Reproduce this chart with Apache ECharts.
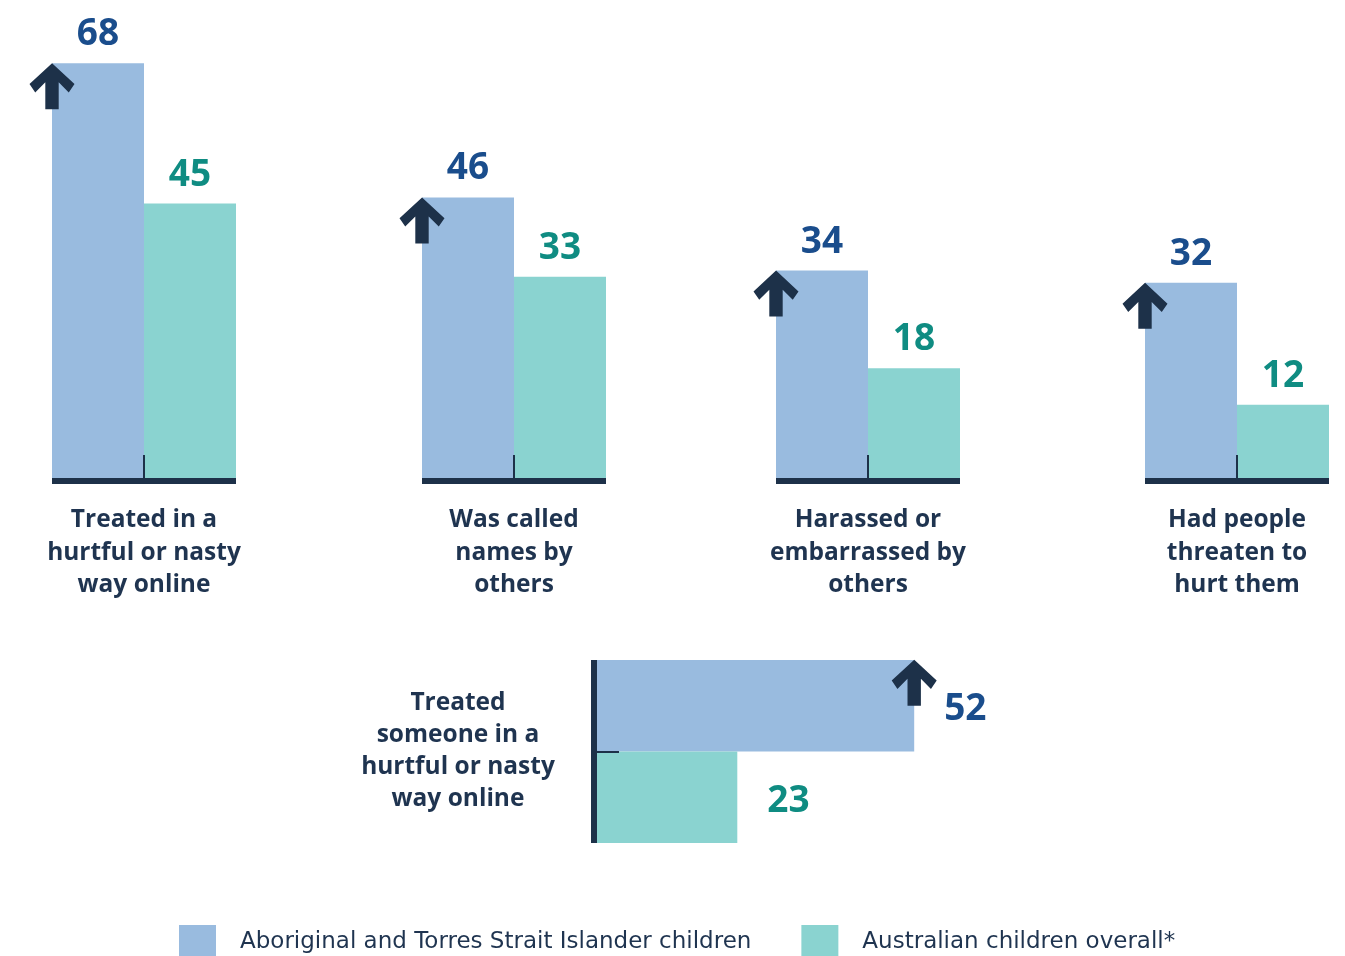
<!DOCTYPE html>
<html>
<head>
<meta charset="utf-8">
<script src="https://cdn.jsdelivr.net/npm/echarts@6/dist/echarts.min.js"></script>
<style>html,body{margin:0;padding:0;background:#fff}#c{width:1345px;height:956px}</style>
</head>
<body>
<div id="c"></div>
<script>
const seriesNames = ['Aboriginal and Torres Strait Islander children', 'Australian children overall*'];
const categories = ['Treated in a\nhurtful or nasty\nway online', 'Was called\nnames by\nothers', 'Harassed or\nembarrassed by\nothers', 'Had people\nthreaten to\nhurt them'];
const aboriginal = [68, 46, 34, 32];
const overall = [45, 33, 18, 12];
const hCategory = ['Treated\nsomeone in a\nhurtful or nasty\nway online'];
const hAboriginal = [52];
const hOverall = [23];

const BLUE = '#99bbdf', TEAL = '#8ad3d0', NAVY = '#1d3149', BLUE_TXT = '#1a4d8c', TEAL_TXT = '#0f8c82';
const FONT = '"Open Sans", sans-serif';
const ARROW = 'path://M22.4,0 L44.7,20.7 L39,29 L29,19 L29,45.7 L15.7,45.7 L15.7,19 L5.7,29 L0,20.7 Z';
const lefts = [52, 422, 776, 1145];

const grids = [], xAxes = [], yAxes = [], series = [];
categories.forEach((cat, i) => {
  grids.push({left: lefts[i], width: 184, top: 51, height: 427});
  xAxes.push({
    type: 'category', gridIndex: i, data: [cat], offset: 3, z: 5,
    axisLine: {show: true, onZero: false, lineStyle: {color: NAVY, width: 6, cap: 'butt'}},
    axisTick: {show: true, inside: true, length: 26, alignWithLabel: true, lineStyle: {color: NAVY, width: 2, cap: 'butt'}},
    axisLabel: {margin: 23, fontFamily: FONT, fontWeight: 700, fontSize: 24.5, lineHeight: 32.5, color: '#1f3450', align: 'center'}
  });
  yAxes.push({type: 'value', gridIndex: i, min: 0, max: 70, show: false});
  series.push({
    type: 'bar', name: seriesNames[0], xAxisIndex: i, yAxisIndex: i, data: [aboriginal[i]],
    barGap: 0, barCategoryGap: 0, itemStyle: {color: BLUE},
    label: {show: true, position: 'top', distance: 10, fontFamily: FONT, fontWeight: 700, fontSize: 37, color: BLUE_TXT},
    markPoint: {
      symbol: ARROW, symbolSize: [45, 46], symbolOffset: [-46, 23], silent: true,
      itemStyle: {color: NAVY}, label: {show: false},
      data: [{coord: [cat, aboriginal[i]]}]
    }
  });
  series.push({
    type: 'bar', name: seriesNames[1], xAxisIndex: i, yAxisIndex: i, data: [overall[i]],
    barGap: 0, barCategoryGap: 0, itemStyle: {color: TEAL},
    label: {show: true, position: 'top', distance: 10, fontFamily: FONT, fontWeight: 700, fontSize: 37, color: TEAL_TXT}
  });
});

// horizontal chart
grids.push({left: 597, width: 427, top: 660, height: 183});
xAxes.push({type: 'value', gridIndex: 4, min: 0, max: 70, show: false});
yAxes.push({
  type: 'category', gridIndex: 4, data: hCategory, offset: 3, inverse: true, z: 5,
  axisLine: {show: true, onZero: false, lineStyle: {color: NAVY, width: 6, cap: 'butt'}},
  axisTick: {show: true, inside: true, length: 25, alignWithLabel: true, lineStyle: {color: NAVY, width: 2, cap: 'butt'}},
  axisLabel: {margin: 136, fontFamily: FONT, fontWeight: 700, fontSize: 24.5, lineHeight: 32, padding: [10, 0, 0, 0], color: '#1f3450', align: 'center'}
});
series.push({
  type: 'bar', name: seriesNames[0], xAxisIndex: 4, yAxisIndex: 4, data: hAboriginal,
  barGap: 0, barCategoryGap: 0, itemStyle: {color: BLUE},
  label: {show: true, position: 'right', distance: 30, offset: [0, 4], fontFamily: FONT, fontWeight: 700, fontSize: 37, color: BLUE_TXT},
  markPoint: {
    symbol: ARROW, symbolSize: [45, 46], symbolOffset: [0, -23], silent: true,
    itemStyle: {color: NAVY}, label: {show: false},
    data: [{coord: [hAboriginal[0], hCategory[0]]}]
  }
});
series.push({
  type: 'bar', name: seriesNames[1], xAxisIndex: 4, yAxisIndex: 4, data: hOverall,
  barGap: 0, barCategoryGap: 0, itemStyle: {color: TEAL},
  label: {show: true, position: 'right', distance: 30, offset: [0, 4], fontFamily: FONT, fontWeight: 700, fontSize: 37, color: TEAL_TXT}
});

const chart = echarts.init(document.getElementById('c'), null, {renderer: 'canvas'});
chart.setOption({
  animation: false,
  backgroundColor: '#fff',
  legend: {
    left: 174, top: 920, itemWidth: 37, itemHeight: 35, itemGap: 50, icon: 'rect',
    data: seriesNames, selectedMode: false,
    textStyle: {fontFamily: '"DejaVu Sans", sans-serif', fontSize: 23, color: '#1f3450', padding: [0, 0, 0, 19]}
  },
  grid: grids, xAxis: xAxes, yAxis: yAxes, series: series
});
</script>
</body>
</html>
